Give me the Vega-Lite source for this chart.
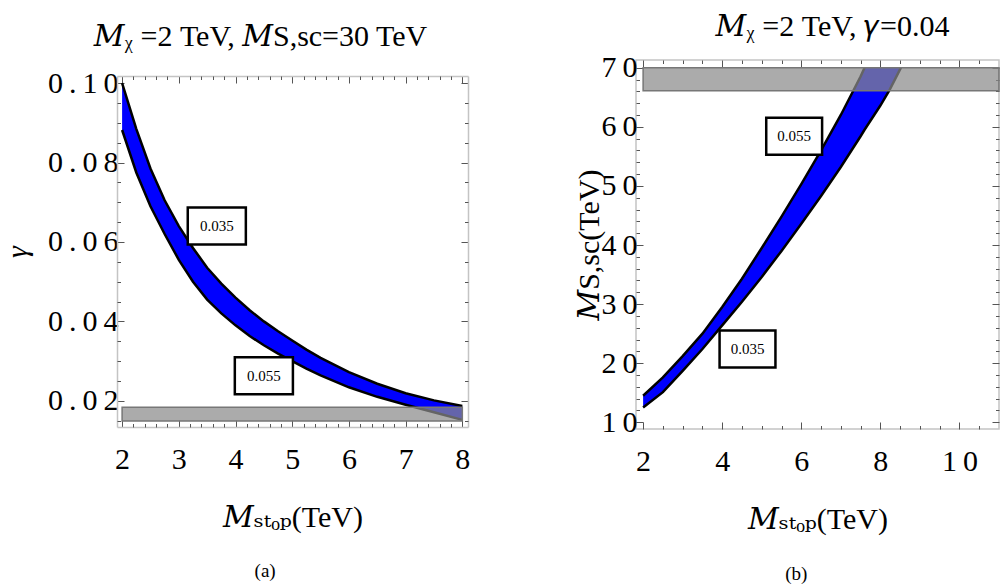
{
  "$schema": "https://vega.github.io/schema/vega-lite/v6.json",
  "background": "white",
  "padding": {"left": 2, "top": 10, "right": 0, "bottom": 0},
  "spacing": 104,
  "config": {
    "font": "Liberation Serif",
    "view": {"stroke": "#c4c4c4", "strokeWidth": 1.5},
    "title": {"fontSize": 19, "fontWeight": "normal", "font": "Liberation Serif"},
    "style": {"group-title": {"fontSize": 19, "fontWeight": "normal", "font": "Liberation Serif"}},
    "axis": {"grid": false, "domain": false, "labelFont": "Liberation Serif", "titleFont": "Liberation Serif, DejaVu Serif", "labelColor": "black", "titleColor": "black", "titleFontWeight": "normal", "tickColor": "#555", "labelFontWeight": "normal", "domainColor": "#c4c4c4", "domainWidth": 1.5}
  },
  "datasets": {
    "a": [
      {"M": 2.0, "lo": 0.0882, "hi": 0.1000},
      {"M": 2.25, "lo": 0.0775, "hi": 0.0885},
      {"M": 2.5, "lo": 0.0690, "hi": 0.0785},
      {"M": 2.75, "lo": 0.0620, "hi": 0.0705},
      {"M": 3.0, "lo": 0.0555, "hi": 0.0640},
      {"M": 3.25, "lo": 0.0500, "hi": 0.0585},
      {"M": 3.5, "lo": 0.0455, "hi": 0.0535},
      {"M": 3.75, "lo": 0.0420, "hi": 0.0495},
      {"M": 4.0, "lo": 0.0390, "hi": 0.0460},
      {"M": 4.25, "lo": 0.0363, "hi": 0.0428},
      {"M": 4.5, "lo": 0.0340, "hi": 0.0400},
      {"M": 4.75, "lo": 0.0319, "hi": 0.0375},
      {"M": 5.0, "lo": 0.0300, "hi": 0.0352},
      {"M": 5.25, "lo": 0.0281, "hi": 0.0329},
      {"M": 5.5, "lo": 0.0264, "hi": 0.0308},
      {"M": 6.0, "lo": 0.0234, "hi": 0.0272},
      {"M": 6.5, "lo": 0.0210, "hi": 0.0243},
      {"M": 7.0, "lo": 0.0190, "hi": 0.0219},
      {"M": 7.5, "lo": 0.0171, "hi": 0.0201},
      {"M": 8.0, "lo": 0.0152, "hi": 0.0187}
    ],
    "aband": [{"x0": 2, "x1": 8, "y0": 0.0149, "y1": 0.0184}],
    "alab": [{"M": 3.67, "g": 0.064, "t": "0.035"}, {"M": 4.5, "g": 0.0263, "t": "0.055"}],
    "b": [
      {"M": 2.0, "lo": 12.5, "hi": 14.5, "up": 14.5},
      {"M": 2.5, "lo": 15.1, "hi": 17.6, "up": 17.6},
      {"M": 3.0, "lo": 18.7, "hi": 21.2, "up": 21.2},
      {"M": 3.5, "lo": 22.4, "hi": 25.0, "up": 25.0},
      {"M": 4.0, "lo": 26.4, "hi": 29.5, "up": 29.5},
      {"M": 4.5, "lo": 30.4, "hi": 34.3, "up": 34.3},
      {"M": 5.0, "lo": 34.6, "hi": 39.5, "up": 39.5},
      {"M": 5.5, "lo": 39.0, "hi": 44.8, "up": 44.8},
      {"M": 6.0, "lo": 43.6, "hi": 50.3, "up": 50.3},
      {"M": 6.5, "lo": 48.3, "hi": 56.0, "up": 56.0},
      {"M": 7.0, "lo": 53.2, "hi": 62.0, "up": 62.0},
      {"M": 7.5, "lo": 58.4, "hi": 68.5, "up": 68.5},
      {"M": 7.6, "lo": 59.5, "hi": 70.0, "up": 70.0},
      {"M": 8.0, "lo": 63.6, "hi": 70.0, "up": null},
      {"M": 8.23, "lo": 66.2, "hi": 70.0, "up": null},
      {"M": 8.52, "lo": 70.0, "hi": 70.0, "up": null}
    ],
    "bband": [{"x0": 2, "x1": 11.0, "y0": 66.1, "y1": 70.0}],
    "blab": [{"M": 5.82, "s": 58.4, "t": "0.055"}, {"M": 4.64, "s": 22.4, "t": "0.035"}]
  },
  "hconcat": [
    {
      "title": {"text": "(a)", "orient": "bottom", "anchor": "middle", "fontSize": 19, "fontWeight": "normal", "font": "Liberation Serif", "offset": 30, "dx": 29},
      "vconcat": [
        {
          "width": 351,
          "height": 367,
          "view": {"stroke": null},
          "title": {"text": "𝑀ᵪ =2 TeV, 𝑀S,sc=30 TeV", "fontSize": 30, "fontWeight": "normal", "font": "Liberation Serif, DejaVu Serif", "frame": "group", "anchor": "middle", "offset": -16, "baseline": "alphabetic", "dx": -32},
          "resolve": {"axis": {"x": "independent", "y": "independent"}},
          "layer": [
            {
              "data": {"name": "a"},
              "mark": {"type": "area", "color": "#0000ff", "opacity": 1},
              "encoding": {
                "x": {"field": "M", "type": "quantitative", "scale": {"domain": [1.91, 8.1], "nice": false, "zero": false},
                  "axis": {"orient": "bottom", "domain": true, "values": [2, 3, 4, 5, 6, 7, 8], "format": "d", "tickSize": -7, "labelFontSize": 30, "labelPadding": 24, "labelExpr": "join(split(datum.label, ''), '\u2009')", "title": "𝑀ₛₜₒₚ(TeV)", "titleFontSize": 30, "titlePadding": 28}},
                "y": {"field": "hi", "type": "quantitative", "scale": {"domain": [0.0134, 0.1018], "nice": false, "zero": false, "range": [367, 16]},
                  "axis": {"orient": "left", "domain": true, "values": [0.02, 0.04, 0.06, 0.08, 0.1], "format": ".2f", "tickSize": -7, "labelFontSize": 30, "labelPadding": 6, "labelExpr": "join(split(datum.label, ''), '\u2009')", "title": "γ", "titleFontStyle": "italic", "titleFontSize": 30, "titlePadding": 15}},
                "y2": {"field": "lo"}
              }
            },
            {
              "data": {"name": "a"},
              "mark": {"type": "line", "color": "black", "strokeWidth": 2.5},
              "encoding": {
                "x": {"field": "M", "type": "quantitative", "axis": {"orient": "bottom", "values": [2.2, 2.4, 2.6, 2.8, 3.2, 3.4, 3.6, 3.8, 4.2, 4.4, 4.6, 4.8, 5.2, 5.4, 5.6, 5.8, 6.2, 6.4, 6.6, 6.8, 7.2, 7.4, 7.6, 7.8], "tickSize": -3.5, "labels": false, "title": null}},
                "y": {"field": "hi", "type": "quantitative", "axis": {"orient": "left", "values": [0.015, 0.025, 0.03, 0.035, 0.045, 0.05, 0.055, 0.065, 0.07, 0.075, 0.085, 0.09, 0.095], "tickSize": -3.5, "labels": false, "title": null}}
              }
            },
            {
              "data": {"name": "a"},
              "mark": {"type": "line", "color": "black", "strokeWidth": 2.5},
              "encoding": {
                "x": {"field": "M", "type": "quantitative", "axis": {"orient": "top", "domain": true, "offset": -16, "minExtent": 0, "maxExtent": 0, "values": [2, 3, 4, 5, 6, 7, 8], "tickSize": -7, "labels": false, "title": null}},
                "y": {"field": "lo", "type": "quantitative", "axis": {"orient": "right", "domain": true, "values": [0.02, 0.04, 0.06, 0.08, 0.1], "tickSize": -7, "labels": false, "title": null, "minExtent": 0, "maxExtent": 0}}
              }
            },
            {
              "data": {"name": "aband"},
              "mark": {"type": "rect", "fill": "#8a8a8a", "fillOpacity": 0.72, "stroke": "#777", "strokeWidth": 1.5},
              "encoding": {
                "x": {"field": "x0", "type": "quantitative", "axis": {"orient": "top", "offset": -16, "minExtent": 0, "maxExtent": 0, "values": [2.2, 2.4, 2.6, 2.8, 3.2, 3.4, 3.6, 3.8, 4.2, 4.4, 4.6, 4.8, 5.2, 5.4, 5.6, 5.8, 6.2, 6.4, 6.6, 6.8, 7.2, 7.4, 7.6, 7.8], "tickSize": -3.5, "labels": false, "title": null}},
                "x2": {"field": "x1"},
                "y": {"field": "y0", "type": "quantitative", "axis": {"orient": "right", "minExtent": 0, "maxExtent": 0, "values": [0.015, 0.025, 0.03, 0.035, 0.045, 0.05, 0.055, 0.065, 0.07, 0.075, 0.085, 0.09, 0.095], "tickSize": -3.5, "labels": false, "title": null}},
                "y2": {"field": "y1"}
              }
            },
            {
              "data": {"name": "alab"},
              "mark": {"type": "point", "shape": "M-1.57,-1H1.57V1H-1.57Z", "size": 1369, "filled": true, "fill": "white", "fillOpacity": 1, "stroke": "black", "strokeWidth": 2.5, "strokeOpacity": 1, "opacity": 1},
              "encoding": {
                "x": {"field": "M", "type": "quantitative", "axis": null},
                "y": {"field": "g", "type": "quantitative", "axis": null}
              }
            },
            {
              "data": {"name": "alab"},
              "mark": {"type": "text", "fontSize": 15, "font": "Liberation Serif", "align": "center", "baseline": "middle", "color": "black"},
              "encoding": {
                "x": {"field": "M", "type": "quantitative", "axis": null},
                "y": {"field": "g", "type": "quantitative", "axis": null},
                "text": {"field": "t"}
              }
            }
          ]
        }
      ]
    },
    {
      "title": {"text": "(b)", "orient": "bottom", "anchor": "middle", "fontSize": 19, "fontWeight": "normal", "font": "Liberation Serif", "offset": 30, "dx": 9},
      "vconcat": [
        {
          "width": 363,
          "height": 369,
          "title": {"text": "𝑀ᵪ =2 TeV, 𝛾=0.04", "fontSize": 30, "fontWeight": "normal", "font": "Liberation Serif, DejaVu Serif", "frame": "group", "anchor": "middle", "offset": -13, "baseline": "alphabetic", "dx": 15},
          "resolve": {"axis": {"x": "independent", "y": "independent"}},
          "layer": [
            {
              "data": {"name": "b"},
              "mark": {"type": "area", "color": "#0000ff", "opacity": 1},
              "encoding": {
                "x": {"field": "M", "type": "quantitative", "scale": {"domain": [1.82, 11.0], "nice": false, "zero": false},
                  "axis": {"orient": "bottom", "values": [2, 4, 6, 8, 10], "format": "d", "tickSize": -7, "labelFontSize": 30, "labelPadding": 24, "labelExpr": "join(split(datum.label, ''), '\u2009')", "title": "𝑀ₛₜₒₚ(TeV)", "titleFontSize": 30, "titlePadding": 28}},
                "y": {"field": "hi", "type": "quantitative", "scale": {"domain": [8.87, 71.3], "nice": false, "zero": false},
                  "axis": {"orient": "left", "values": [10, 20, 30, 40, 50, 60, 70], "format": "d", "tickSize": -7, "labelFontSize": 30, "labelPadding": 6, "labelExpr": "join(split(datum.label, ''), '\u2009')", "title": "𝑀S,sc(TeV)", "titleFontSize": 30, "titlePadding": 2, "titleBaseline": "alphabetic"}},
                "y2": {"field": "lo"}
              }
            },
            {
              "data": {"name": "b"},
              "mark": {"type": "line", "color": "black", "strokeWidth": 2.5},
              "encoding": {
                "x": {"field": "M", "type": "quantitative", "axis": {"orient": "bottom", "values": [2.5, 3, 3.5, 4.5, 5, 5.5, 6.5, 7, 7.5, 8.5, 9, 9.5, 10.5], "tickSize": -3.5, "labels": false, "title": null}},
                "y": {"field": "up", "type": "quantitative", "axis": {"orient": "left", "values": [12, 14, 16, 18, 22, 24, 26, 28, 32, 34, 36, 38, 42, 44, 46, 48, 52, 54, 56, 58, 62, 64, 66, 68], "tickSize": -3.5, "labels": false, "title": null}}
              }
            },
            {
              "data": {"name": "b"},
              "mark": {"type": "line", "color": "black", "strokeWidth": 2.5},
              "encoding": {
                "x": {"field": "M", "type": "quantitative", "axis": {"orient": "top", "minExtent": 0, "maxExtent": 0, "values": [2, 4, 6, 8, 10], "tickSize": -7, "labels": false, "title": null}},
                "y": {"field": "lo", "type": "quantitative", "axis": {"orient": "right", "minExtent": 0, "maxExtent": 0, "values": [10, 20, 30, 40, 50, 60, 70], "tickSize": -7, "labels": false, "title": null}}
              }
            },
            {
              "data": {"name": "bband"},
              "mark": {"type": "rect", "fill": "#8a8a8a", "fillOpacity": 0.72, "stroke": "#777", "strokeWidth": 1.5},
              "encoding": {
                "x": {"field": "x0", "type": "quantitative", "axis": {"orient": "top", "minExtent": 0, "maxExtent": 0, "values": [2.5, 3, 3.5, 4.5, 5, 5.5, 6.5, 7, 7.5, 8.5, 9, 9.5, 10.5], "tickSize": -3.5, "labels": false, "title": null}},
                "x2": {"field": "x1"},
                "y": {"field": "y0", "type": "quantitative", "axis": {"orient": "right", "minExtent": 0, "maxExtent": 0, "values": [12, 14, 16, 18, 22, 24, 26, 28, 32, 34, 36, 38, 42, 44, 46, 48, 52, 54, 56, 58, 62, 64, 66, 68], "tickSize": -3.5, "labels": false, "title": null}},
                "y2": {"field": "y1"}
              }
            },
            {
              "data": {"name": "blab"},
              "mark": {"type": "point", "shape": "M-1.51,-1H1.51V1H-1.51Z", "size": 1369, "filled": true, "fill": "white", "fillOpacity": 1, "stroke": "black", "strokeWidth": 2.5, "strokeOpacity": 1, "opacity": 1},
              "encoding": {
                "x": {"field": "M", "type": "quantitative", "axis": null},
                "y": {"field": "s", "type": "quantitative", "axis": null}
              }
            },
            {
              "data": {"name": "blab"},
              "mark": {"type": "text", "fontSize": 15, "font": "Liberation Serif", "align": "center", "baseline": "middle", "color": "black"},
              "encoding": {
                "x": {"field": "M", "type": "quantitative", "axis": null},
                "y": {"field": "s", "type": "quantitative", "axis": null},
                "text": {"field": "t"}
              }
            }
          ]
        }
      ]
    }
  ]
}
